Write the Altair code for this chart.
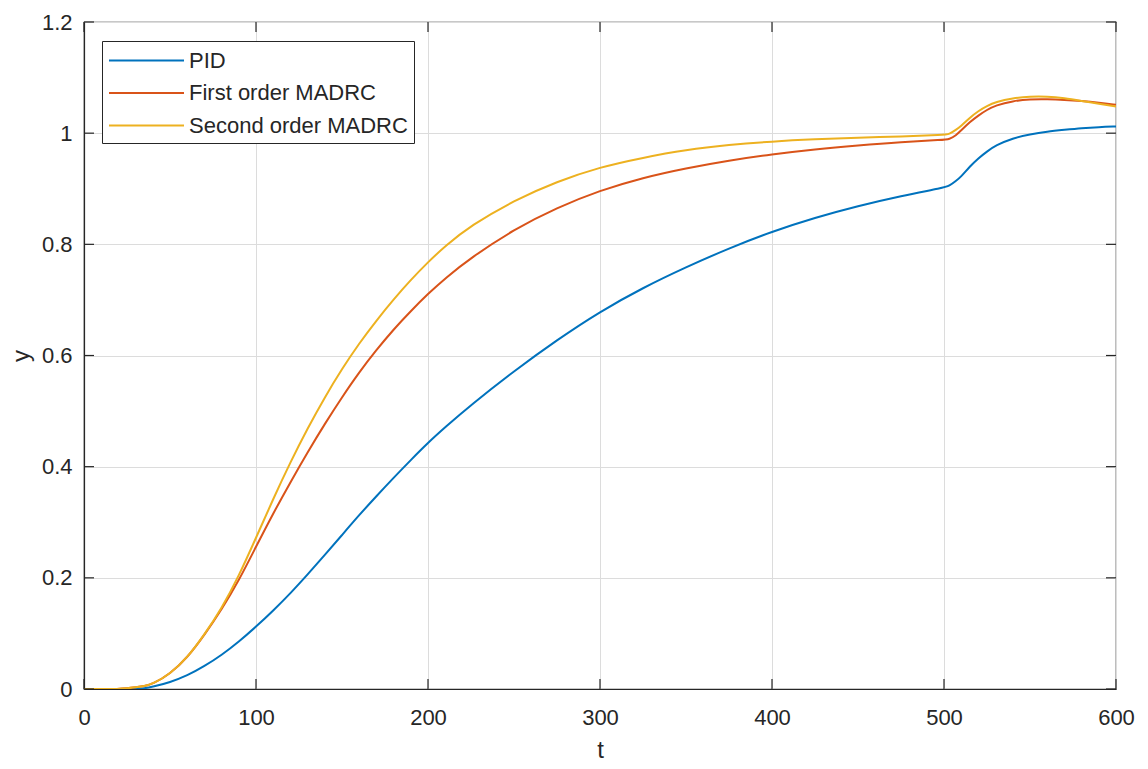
import altair as alt
import pandas as pd

# --- data ---
t = [0, 10, 20, 25, 30, 35, 40, 50, 60, 70, 80, 90, 100, 110, 120, 130, 140, 150,
     160, 170, 180, 190, 200, 210, 225, 250, 275, 300, 325, 350, 375, 400, 425,
     450, 475, 500, 503, 507, 510, 515, 520, 525, 530, 540, 550, 560, 570, 580, 590, 600]

pid = [0, 0, 0, 0, 0, 0.001, 0.004, 0.012, 0.024, 0.041, 0.061, 0.085, 0.112,
       0.141, 0.172, 0.206, 0.241, 0.277, 0.313, 0.347, 0.380, 0.412, 0.443,
       0.471, 0.511, 0.572, 0.628, 0.679, 0.722, 0.759, 0.793, 0.823, 0.848,
       0.869, 0.887, 0.902, 0.905, 0.914, 0.922, 0.940, 0.955, 0.967, 0.978, 0.991,
       0.998, 1.003, 1.006, 1.009, 1.011, 1.012]

first_order = [0, 0, 0, 0.001, 0.003, 0.005, 0.009, 0.027, 0.056, 0.097, 0.143,
               0.195, 0.256, 0.316, 0.372, 0.426, 0.477, 0.525, 0.570, 0.610,
               0.647, 0.680, 0.711, 0.739, 0.776, 0.827, 0.866, 0.897, 0.920,
               0.937, 0.951, 0.962, 0.971, 0.978, 0.984, 0.988, 0.989, 0.996, 1.005,
               1.020, 1.032, 1.042, 1.050, 1.058, 1.061, 1.061, 1.060, 1.058,
               1.055, 1.051]

second_order = [0, 0, 0, 0.001, 0.003, 0.005, 0.009, 0.027, 0.056, 0.098, 0.145,
                0.203, 0.272, 0.342, 0.408, 0.469, 0.525, 0.576, 0.622, 0.663,
                0.701, 0.736, 0.768, 0.797, 0.834, 0.879, 0.913, 0.939, 0.956,
                0.970, 0.979, 0.985, 0.989, 0.992, 0.994, 0.997, 0.998, 1.006, 1.013,
                1.028, 1.040, 1.049, 1.056, 1.063, 1.066, 1.066, 1.063, 1.058,
                1.053, 1.048]

series_names = ["PID", "First order MADRC", "Second order MADRC"]
series_colors = ["#0072BD", "#D95319", "#EDB120"]
x_ticks = [0, 100, 200, 300, 400, 500, 600]
y_ticks = [0, 0.2, 0.4, 0.6, 0.8, 1.0, 1.2]

rows = []
for name, vals in zip(series_names, [pid, first_order, second_order]):
    for ti, v in zip(t, vals):
        rows.append({"t": ti, "y": v, "series": name})
df = pd.DataFrame(rows)

FONT = "Liberation Sans"
TXT = "#262626"
W, H = 1032, 667
TICK = 10

xs = alt.Scale(domain=[0, 600], nice=False, zero=False)
ys = alt.Scale(domain=[0, 1.2], nice=False)

base = alt.Chart(df).mark_line(strokeWidth=2, interpolate="basis", clip=True).encode(
    x=alt.X("t:Q", scale=xs,
            axis=alt.Axis(values=x_ticks, title="t", format="d", labelFlush=False,
                          labelPadding=18, titlePadding=10)),
    y=alt.Y("y:Q", scale=ys,
            axis=alt.Axis(values=y_ticks, title="y", format=".1~f", labelFlush=False,
                          labelPadding=12, titlePadding=8)),
    color=alt.Color("series:N",
                    scale=alt.Scale(domain=series_names, range=series_colors),
                    legend=alt.Legend(title=None, orient="none",
                                      legendX=18, legendY=19,
                                      symbolType="M-1,0H5", symbolSize=625,
                                      symbolStrokeWidth=2,
                                      labelOffset=54, rowPadding=7.5,
                                      padding=6, strokeColor=TXT,
                                      fillColor="white",
                                      labelFontSize=22, labelFont=FONT,
                                      labelColor=TXT, labelLimit=400)),
)

layers = [base.transform_filter(alt.datum.series == name) for name in series_names]

# inward tick marks (MATLAB style box)
xt = pd.DataFrame({"t": x_ticks})
yt = pd.DataFrame({"y": y_ticks})
tick_style = dict(color=TXT, strokeWidth=1.2)
xbot = alt.Chart(xt).mark_rule(**tick_style).encode(
    x=alt.X("t:Q", scale=xs), y=alt.value(H), y2=alt.value(H - TICK))
xtop = alt.Chart(xt).mark_rule(**tick_style).encode(
    x=alt.X("t:Q", scale=xs), y=alt.value(0), y2=alt.value(TICK))
yleft = alt.Chart(yt).mark_rule(**tick_style).encode(
    y=alt.Y("y:Q", scale=ys), x=alt.value(0), x2=alt.value(TICK))
yright = alt.Chart(yt).mark_rule(**tick_style).encode(
    y=alt.Y("y:Q", scale=ys), x=alt.value(W), x2=alt.value(W - TICK))

chart = alt.layer(*layers, xbot, xtop, yleft, yright).properties(
    width=W, height=H,
    autosize=alt.AutoSizeParams(type="none"),
    padding={"left": 76, "top": 14, "right": 20, "bottom": 72},
    background="white",
).configure_view(
    stroke=TXT, strokeWidth=1.2,
).configure_axis(
    grid=True, gridColor="#dcdcdc", gridWidth=1,
    domainColor=TXT, domainWidth=1.2,
    ticks=False,
    labelFont=FONT, labelFontSize=22, labelColor=TXT,
    titleFont=FONT, titleFontSize=24, titleColor=TXT, titleFontWeight="normal",
)

chart.save("out.html", embed_options={"renderer": "svg", "actions": False})
